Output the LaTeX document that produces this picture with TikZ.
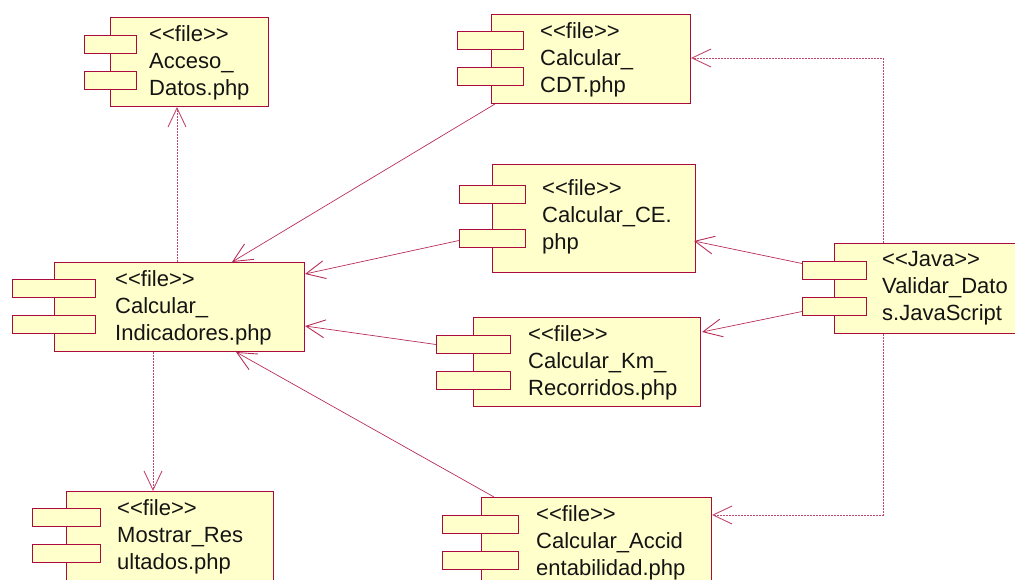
\documentclass[tikz,border=0pt]{standalone}
\usepackage{fontspec}
\setmainfont{Liberation Sans}
\usetikzlibrary{arrows.meta,calc}
\definecolor{rosebd}{RGB}{170,10,60}
\definecolor{rosefill}{RGB}{255,255,204}
\tikzset{
  x=1pt,y=-1pt,
  compbox/.style={draw=rosebd,fill=rosefill,line width=1pt,minimum width=0pt,inner sep=0pt,rectangle},
  comptext/.style={anchor=north west,inner sep=0pt,align=left,text=black!92,font=\fontsize{22}{27}\selectfont},
  dep/.style={draw=rosebd!85,line width=.7pt,-{Straight Barb[length=19pt,width=18pt,line width=.9pt]}},
  dotdep/.style={dep,draw=rosebd!75,line width=.8pt,dash pattern=on 2pt off 1pt},
}
% name, x1,y1,x2,y2, tabx1,tabx2, taby1,taby2
\newcommand{\compo}[9]{%
  \node[compbox,minimum width=#4-#2,minimum height=#5-#3,anchor=north west] (#1) at (#2,#3) {};
  \node[compbox,minimum width=#7-#6,minimum height=18,anchor=north west] (#1t1) at (#6,#8) {};
  \node[compbox,minimum width=#7-#6,minimum height=18,anchor=north west] (#1t2) at (#6,#9) {};
}
\begin{document}
\begin{tikzpicture}
\useasboundingbox (0,0) rectangle (1015,580);
\clip (0,0) rectangle (1015,580);
\compo{acceso}{110}{17}{268}{106}{84}{136}{35}{71}
\node[comptext] (accesot) at (149,25) {<{}<file>{}>\\Acceso\_\\Datos.php};
\compo{ind}{54}{262}{304}{351}{12}{95}{279}{315}
\node[comptext] (indt) at (115,270) {<{}<file>{}>\\Calcular\_\\Indicadores.php};
\compo{cdt}{491}{14}{690}{103}{457}{523}{31}{67}
\node[comptext] (cdtt) at (540,22) {<{}<file>{}>\\Calcular\_\\CDT.php};
\compo{ce}{492}{164}{695}{272}{459}{525}{185}{229}
\node[comptext] (cet) at (542,179) {<{}<file>{}>\\Calcular\_CE.\\php};
\compo{val}{834}{243}{1025}{333}{802}{866}{261}{297}
\node[comptext] (valt) at (882,251) {<{}<Java>{}>\\Validar\_Dato\\s.JavaScript};
\compo{km}{473}{317}{700}{406}{436}{510}{335}{371}
\node[comptext] (kmt) at (528,325) {<{}<file>{}>\\Calcular\_Km\_\\Recorridos.php};
\compo{mos}{66}{491}{273}{590}{32}{100}{508}{544}
\node[comptext] (most) at (117,499) {<{}<file>{}>\\Mostrar\_Res\\ultados.php};
\compo{acc}{481}{497}{711}{600}{442}{518}{515}{551}
\node[comptext] (acct) at (536,505) {<{}<file>{}>\\Calcular\_Accid\\entabilidad.php};
% connectors
\draw[dotdep] (ind.north west)++(123,0) -- ($(acceso.south west)+(67,0)$);
\draw[dotdep] (ind.south west)++(99,0) -- ($(mos.north west)+(87,0)$);
\draw[dep] (cdt.south west)++(4,0) -- ($(ind.north west)+(178,0)$);
\draw[dep] (cet2.west)++(0,2) -- ($(ind.north east)+(0,12)$);
\draw[dep] (kmt1.west)++(0,0) -- ($(ind.south east)+(0,-26)$);
\draw[dep] (acc.north west)++(13,0) -- ($(ind.south west)+(182,0)$);
\draw[dep] (valt1.west)++(0,-7) -- ($(ce.south east)+(-2,-32)$);
\draw[dep] (valt2.west)++(0,5) -- ($(km.north east)+(1,15)$);
\draw[dotdep] (val.north west)++(49,0) |- ($(cdt.north east)+(0,44)$);
\draw[dotdep] (val.south west)++(49,0) |- ($(acc.north east)+(0,18)$);
\end{tikzpicture}
\end{document}
